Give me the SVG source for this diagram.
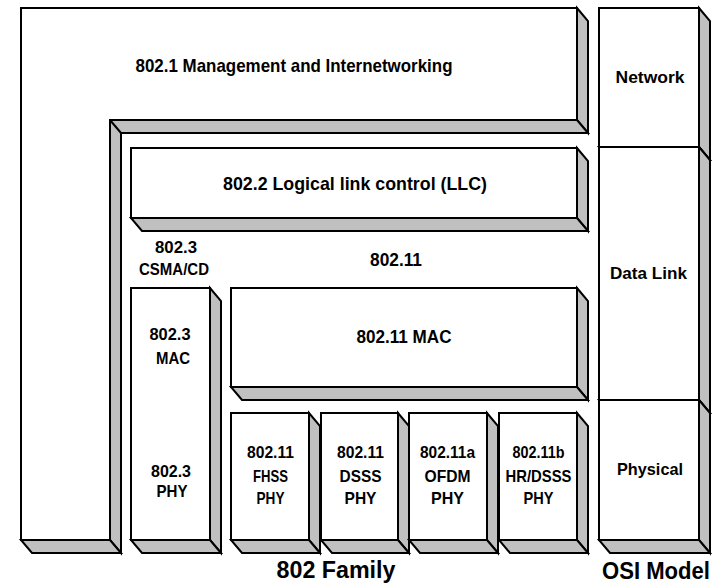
<svg xmlns="http://www.w3.org/2000/svg" width="717" height="588" viewBox="0 0 717 588">
<style>
.f{fill:#ffffff;stroke:#000;stroke-width:2;stroke-linejoin:miter}
.s{fill:#c0c0c0;stroke:#000;stroke-width:2;stroke-linejoin:miter}
text{font-family:"Liberation Sans",Arial,sans-serif;font-weight:bold;fill:#000;text-anchor:middle}
.t{font-size:19px}
.m{font-size:17px}
.b{font-size:23px}
</style>
<rect width="717" height="588" fill="#fff"/>
<g id="n8021">
<polygon class="s" points="577,8 588,21 588,133 577,120"/>
<polygon class="s" points="110,120 577,120 588,133 121,133 121,553 110,540"/>
<polygon class="s" points="21,540 110,540 121,553 32,553"/>
<line x1="110" y1="120" x2="121" y2="133" stroke="#000" stroke-width="2"/>
<polygon class="f" points="21,8 577,8 577,120 110,120 110,540 21,540"/>
<text class="t" x="294" y="72" textLength="317" lengthAdjust="spacingAndGlyphs">802.1 Management and Internetworking</text>
</g>
<g id="n8022">
<polygon class="s" points="577,148 588,161 588,231 577,218"/>
<polygon class="s" points="131,218 577,218 588,231 142,231"/>
<rect class="f" x="131" y="148" width="446" height="70"/>
<text class="t" x="355" y="190" textLength="264" lengthAdjust="spacingAndGlyphs">802.2  Logical link control (LLC)</text>
</g>
<g id="l8023">
<text class="m" x="176" y="253" textLength="42" lengthAdjust="spacingAndGlyphs">802.3</text>
<text class="m" x="174" y="275" textLength="70" lengthAdjust="spacingAndGlyphs">CSMA/CD</text>
</g>
<g id="l80211">
<text class="t" x="396" y="266" textLength="52" lengthAdjust="spacingAndGlyphs">802.11</text>
</g>
<g id="n8023">
<polygon class="s" points="210,288 221,301 221,553 210,540"/>
<polygon class="s" points="131,540 210,540 221,553 142,553"/>
<rect class="f" x="131" y="288" width="79" height="252"/>
<text class="m" x="170" y="340" textLength="41" lengthAdjust="spacingAndGlyphs">802.3</text>
<text class="m" x="173" y="364" textLength="34" lengthAdjust="spacingAndGlyphs">MAC</text>
<text class="m" x="171" y="477" textLength="40" lengthAdjust="spacingAndGlyphs">802.3</text>
<text class="m" x="172" y="497" textLength="31" lengthAdjust="spacingAndGlyphs">PHY</text>
</g>
<g id="n80211mac">
<polygon class="s" points="577,288 588,301 588,400 577,387"/>
<polygon class="s" points="231,387 577,387 588,400 242,400"/>
<rect class="f" x="231" y="288" width="346" height="99"/>
<text class="t" x="404" y="343" textLength="95" lengthAdjust="spacingAndGlyphs">802.11 MAC</text>
</g>
<g id="nfhss">
<polygon class="s" points="309,413 320,426 320,553 309,540"/>
<polygon class="s" points="231,540 309,540 320,553 242,553"/>
<rect class="f" x="231" y="413" width="78" height="127"/>
<text class="m" x="270.5" y="458" textLength="47" lengthAdjust="spacingAndGlyphs">802.11</text>
<text class="m" x="270.5" y="482" textLength="35" lengthAdjust="spacingAndGlyphs">FHSS</text>
<text class="m" x="270.5" y="504" textLength="28" lengthAdjust="spacingAndGlyphs">PHY</text>
</g>
<g id="ndsss">
<polygon class="s" points="398,413 409,426 409,553 398,540"/>
<polygon class="s" points="321,540 398,540 409,553 332,553"/>
<rect class="f" x="321" y="413" width="77" height="127"/>
<text class="m" x="360.5" y="458" textLength="47" lengthAdjust="spacingAndGlyphs">802.11</text>
<text class="m" x="360.5" y="482" textLength="42" lengthAdjust="spacingAndGlyphs">DSSS</text>
<text class="m" x="360.5" y="504" textLength="32" lengthAdjust="spacingAndGlyphs">PHY</text>
</g>
<g id="nofdm">
<polygon class="s" points="487,413 498,426 498,553 487,540"/>
<polygon class="s" points="409,540 487,540 498,553 420,553"/>
<rect class="f" x="409" y="413" width="78" height="127"/>
<text class="m" x="447.5" y="458" textLength="55" lengthAdjust="spacingAndGlyphs">802.11a</text>
<text class="m" x="447.5" y="482" textLength="46" lengthAdjust="spacingAndGlyphs">OFDM</text>
<text class="m" x="447.5" y="504" textLength="33" lengthAdjust="spacingAndGlyphs">PHY</text>
</g>
<g id="nhrdsss">
<polygon class="s" points="577,413 588,426 588,553 577,540"/>
<polygon class="s" points="499,540 577,540 588,553 510,553"/>
<rect class="f" x="499" y="413" width="78" height="127"/>
<text class="m" x="538.5" y="458" textLength="52" lengthAdjust="spacingAndGlyphs">802.11b</text>
<text class="m" x="538.5" y="482" textLength="66" lengthAdjust="spacingAndGlyphs">HR/DSSS</text>
<text class="m" x="538.5" y="504" textLength="30" lengthAdjust="spacingAndGlyphs">PHY</text>
</g>
<g id="nnetwork">
<polygon class="s" points="699,8 710,21 710,160 699,147"/>
<polygon class="s" points="599,147 699,147 710,160 610,160"/>
<rect class="f" x="599" y="8" width="100" height="139"/>
<text class="m" x="650" y="83" textLength="69" lengthAdjust="spacingAndGlyphs">Network</text>
</g>
<g id="ndatalink">
<polygon class="s" points="699,147 710,160 710,413 699,400"/>
<polygon class="s" points="599,400 699,400 710,413 610,413"/>
<rect class="f" x="599" y="147" width="100" height="253"/>
<text class="m" x="648.5" y="279" textLength="77" lengthAdjust="spacingAndGlyphs">Data Link</text>
</g>
<g id="nphysical">
<polygon class="s" points="699,400 710,413 710,553 699,540"/>
<polygon class="s" points="599,540 699,540 710,553 610,553"/>
<rect class="f" x="599" y="400" width="100" height="140"/>
<text class="m" x="650" y="475" textLength="66" lengthAdjust="spacingAndGlyphs">Physical</text>
</g>
<g id="captions">
<text class="b" x="336" y="578" textLength="119" lengthAdjust="spacingAndGlyphs">802 Family</text>
<text class="b" x="656" y="579" textLength="108" lengthAdjust="spacingAndGlyphs">OSI Model</text>
</g>
<g id="connectors"></g>
</svg>
